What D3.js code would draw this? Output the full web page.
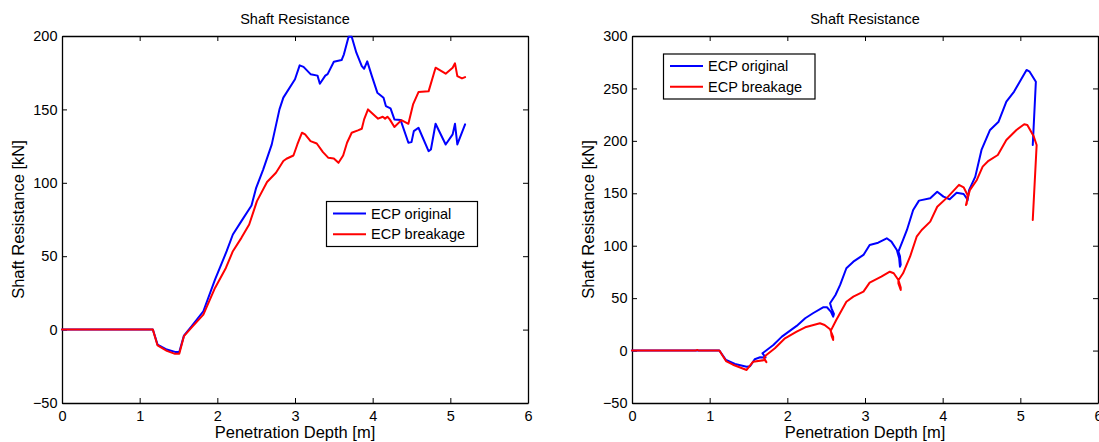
<!DOCTYPE html>
<html>
<head>
<meta charset="utf-8">
<script src="https://cdn.jsdelivr.net/npm/d3@7"></script>
<style>
  html, body { margin: 0; padding: 0; background: #fff; }
  svg { display: block; }
  text { font-family: "Liberation Sans", Arial, Helvetica, sans-serif; fill: #000; }
</style>
</head>
<body>
<svg id="chart" width="1099" height="442"></svg>
<script>
// ---------- DATA ----------
const xTicks = [0, 1, 2, 3, 4, 5, 6];
const leftYTicks = [-50, 0, 50, 100, 150, 200];
const rightYTicks = [-50, 0, 50, 100, 150, 200, 250, 300];
const seriesNames = ["ECP original", "ECP breakage"];
const chartTitle = "Shaft Resistance";
const xLabel = "Penetration Depth [m]";
const yLabel = "Shaft Resistance [kN]";

// Left panel, ECP original
const leftOrigDepth = [0, 1.17, 1.23, 1.35, 1.455, 1.51, 1.57, 1.67, 1.82, 1.97, 2.12, 2.20, 2.31, 2.44, 2.50, 2.59, 2.70, 2.80, 2.85, 3.00, 3.06, 3.11, 3.20, 3.29, 3.32, 3.39, 3.42, 3.50, 3.60, 3.63, 3.69, 3.73, 3.79, 3.86, 3.89, 3.93, 3.99, 4.06, 4.14, 4.17, 4.23, 4.28, 4.36, 4.46, 4.50, 4.53, 4.59, 4.72, 4.75, 4.81, 4.94, 5.03, 5.06, 5.09, 5.19];
const leftOrigValue = [0, 0, -10.2, -13.6, -15.2, -15.3, -4.1, 2.3, 12.5, 34, 53.4, 64.8, 73.9, 84.5, 96.6, 109, 126, 150, 158, 170.5, 180, 179, 174, 173, 167.5, 173, 174, 182.5, 183.6, 187.5, 199.5, 199.5, 188.6, 179.5, 177.7, 182.7, 172.7, 161.4, 158, 152.3, 150.7, 143.2, 142.7, 127.3, 127.7, 135.2, 137.5, 121.6, 122.7, 140.2, 126.1, 133, 140.2, 126.1, 139.8];

// Left panel, ECP breakage
const leftBreakDepth = [0, 1.17, 1.23, 1.35, 1.455, 1.51, 1.57, 1.67, 1.82, 1.97, 2.11, 2.20, 2.31, 2.41, 2.51, 2.64, 2.755, 2.85, 2.89, 2.98, 3.03, 3.09, 3.13, 3.20, 3.28, 3.36, 3.43, 3.50, 3.56, 3.62, 3.67, 3.73, 3.81, 3.86, 3.89, 3.94, 4.01, 4.07, 4.13, 4.16, 4.19, 4.22, 4.28, 4.37, 4.46, 4.52, 4.59, 4.72, 4.81, 4.94, 5.03, 5.06, 5.09, 5.15, 5.19];
const leftBreakValue = [0, 0, -10.8, -14.5, -16.5, -16.5, -4.5, 1.5, 10.2, 28.4, 42, 53.4, 62.5, 71.6, 87.5, 100.5, 106.8, 114.8, 116.4, 118.6, 126.1, 134.1, 133, 128.4, 126.8, 120.9, 117, 116.6, 113.6, 118.6, 127.3, 134.1, 135.7, 136.8, 143.2, 150, 146.6, 143.7, 145, 143.7, 145, 143.2, 138, 142.7, 140.2, 153.4, 161.8, 162.3, 178.4, 174.3, 178.4, 181.4, 172.7, 171.1, 172];

// Right panel, ECP original
const rightOrigDepth = [0, 1.125, 1.21, 1.326, 1.476, 1.52, 1.58, 1.65, 1.72, 1.70, 1.68, 1.82, 1.93, 2.12, 2.23, 2.33, 2.46, 2.51, 2.56, 2.59, 2.60, 2.57, 2.55, 2.62, 2.68, 2.76, 2.85, 2.98, 3.06, 3.17, 3.28, 3.34, 3.41, 3.44, 3.45, 3.46, 3.45, 3.43, 3.49, 3.54, 3.62, 3.695, 3.84, 3.93, 4.01, 4.09, 4.18, 4.27, 4.31, 4.32, 4.33, 4.34, 4.42, 4.50, 4.61, 4.72, 4.82, 4.92, 5.08, 5.12, 5.20, 5.16];
const rightOrigValue = [0, 0, -9, -12.8, -15.5, -15, -8.3, -6.4, -6.6, -4.5, -2.6, 5.3, 13.3, 23.5, 30.8, 35.6, 41.3, 41.3, 37.1, 32.3, 35, 40, 45.1, 53, 62.6, 78.5, 84.8, 91.2, 100.7, 102.9, 107.1, 103.9, 95.9, 88, 80, 82, 90, 94.3, 105.5, 115, 134, 143, 145.2, 151.5, 146.8, 144.3, 150.6, 149.3, 145.2, 143, 148, 153, 165.9, 191.3, 210.4, 218.3, 237.4, 247, 267.6, 266, 256.4, 196];

// Right panel, ECP breakage
const rightBreakDepth = [0, 0.82, 0.84, 0.86, 1.125, 1.21, 1.30, 1.476, 1.56, 1.71, 1.73, 1.70, 1.73, 1.84, 1.97, 2.12, 2.23, 2.42, 2.48, 2.55, 2.59, 2.59, 2.57, 2.56, 2.63, 2.76, 2.85, 2.98, 3.06, 3.21, 3.32, 3.37, 3.43, 3.46, 3.46, 3.43, 3.43, 3.49, 3.58, 3.665, 3.73, 3.84, 3.93, 4.07, 4.21, 4.27, 4.32, 4.31, 4.30, 4.32, 4.35, 4.44, 4.515, 4.59, 4.71, 4.82, 4.95, 5.05, 5.09, 5.17, 5.21, 5.16];
const rightBreakValue = [0, 0, 0.6, 0, 0, -10, -13.5, -18.5, -10.6, -9, -11, -7, -4.2, 2.2, 11.7, 18, 22.2, 26, 24.4, 20.3, 13, 10.1, 14, 19, 29.2, 46.6, 51.4, 56.2, 64.8, 70.5, 75.2, 73.7, 67.3, 60, 57.8, 64, 67, 73.7, 89.5, 108.6, 115, 123, 137.2, 146.8, 158, 155.7, 148.4, 140, 138.8, 145, 153, 162.7, 175.4, 181, 186.5, 200.8, 210.4, 215.8, 215.1, 204.7, 196, 124.5];

const seriesColors = ["#0000ff", "#ff0000"];

// ---------- DRAW ----------
const svg = d3.select("#chart");
const plotW = 466, plotTop = 36, plotBottom = 403;

const panels = [
  { left: 62, yDomain: [-50, 200], yTicks: leftYTicks,
    series: [[leftOrigDepth, leftOrigValue], [leftBreakDepth, leftBreakValue]],
    legend: { x: 326.5, y: 201.5, w: 151, h: 45 } },
  { left: 632, yDomain: [-50, 300], yTicks: rightYTicks,
    series: [[rightOrigDepth, rightOrigValue], [rightBreakDepth, rightBreakValue]],
    legend: { x: 663.5, y: 54, w: 151.5, h: 45 } }
];

panels.forEach(p => {
  const g = svg.append("g");
  const x = d3.scaleLinear().domain([0, 6]).range([p.left, p.left + plotW]);
  const y = d3.scaleLinear().domain(p.yDomain).range([plotBottom, plotTop]);
  const fmt = d3.format("d");

  // axes (MATLAB style: ticks inward on all sides)
  const bottom = g.append("g").attr("transform", `translate(0,${plotBottom})`)
    .call(d3.axisBottom(x).tickValues(xTicks).tickFormat(fmt).tickSizeInner(-5).tickSizeOuter(0).tickPadding(7.5));
  const top = g.append("g").attr("transform", `translate(0,${plotTop})`)
    .call(d3.axisTop(x).tickValues(xTicks).tickFormat("").tickSizeInner(-5).tickSizeOuter(0));
  const leftAx = g.append("g").attr("transform", `translate(${p.left},0)`)
    .call(d3.axisLeft(y).tickValues(p.yTicks).tickFormat(fmt).tickSizeInner(-5).tickSizeOuter(0).tickPadding(4.5));
  const rightAx = g.append("g").attr("transform", `translate(${p.left + plotW},0)`)
    .call(d3.axisRight(y).tickValues(p.yTicks).tickFormat("").tickSizeInner(-5).tickSizeOuter(0));
  [bottom, top, leftAx, rightAx].forEach(a => {
    a.selectAll("path.domain").attr("stroke", "#000").attr("stroke-width", 1.3);
    a.selectAll(".tick line").attr("stroke", "#000").attr("stroke-width", 1);
    a.selectAll("text").attr("font-size", "14.5px")
      .attr("font-family", '"Liberation Sans", Arial, Helvetica, sans-serif').attr("fill", "#000");
  });

  // lines
  const line = d3.line().x(d => x(d[0])).y(d => y(d[1]));
  p.series.forEach((s, i) => {
    const pts = s[0].map((d, k) => [d, s[1][k]]);
    g.append("path").datum(pts).attr("d", line)
      .attr("fill", "none").attr("stroke", seriesColors[i])
      .attr("stroke-width", 2).attr("stroke-linejoin", "round").attr("stroke-linecap", "round");
  });

  // title and labels
  const cx = p.left + plotW / 2;
  g.append("text").attr("x", cx).attr("y", 24).attr("text-anchor", "middle")
    .attr("font-size", "14.5px").text(chartTitle);
  g.append("text").attr("x", cx).attr("y", 437.5).attr("text-anchor", "middle")
    .attr("font-size", "16.5px").text(xLabel);
  g.append("text").attr("transform", `translate(${p.left - 38},${(plotTop + plotBottom) / 2}) rotate(-90)`)
    .attr("text-anchor", "middle").attr("font-size", "16.5px").text(yLabel);

  // legend
  const L = p.legend;
  const lg = g.append("g");
  lg.append("rect").attr("x", L.x).attr("y", L.y).attr("width", L.w).attr("height", L.h)
    .attr("fill", "#fff").attr("stroke", "#000").attr("stroke-width", 1.2);
  seriesNames.forEach((name, i) => {
    const ry = L.y + 12 + i * 20.7;
    lg.append("line").attr("x1", L.x + 6.5).attr("x2", L.x + 39.5).attr("y1", ry).attr("y2", ry)
      .attr("stroke", seriesColors[i]).attr("stroke-width", 2);
    lg.append("text").attr("x", L.x + 44.5).attr("y", ry).attr("dy", "0.35em")
      .attr("font-size", "14.5px").text(name);
  });
});
</script>
</body>
</html>
